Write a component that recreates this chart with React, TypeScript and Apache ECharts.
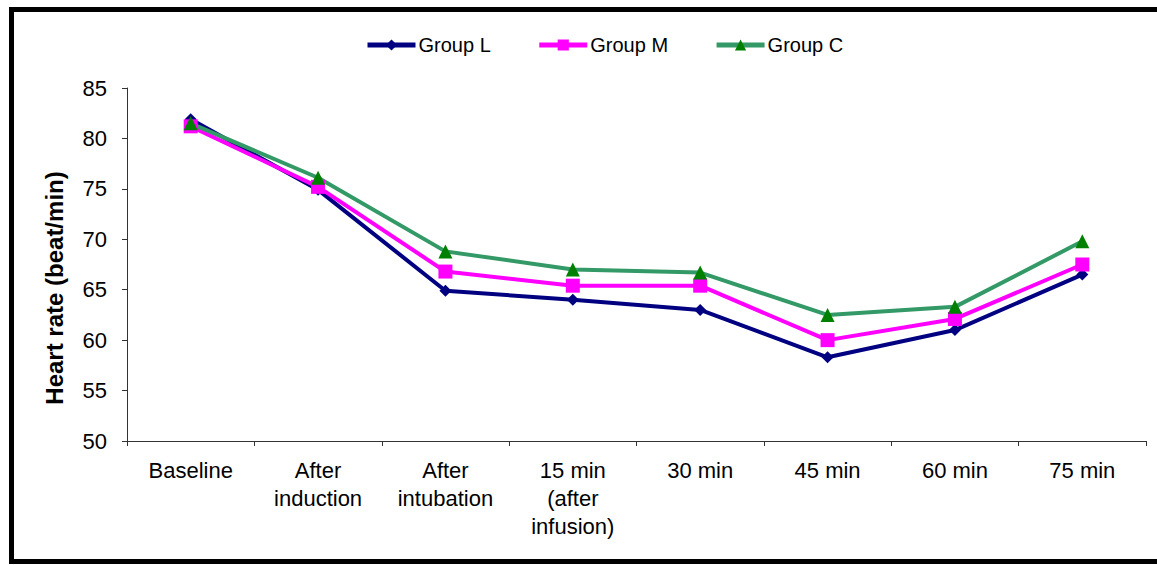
import React, { useEffect, useRef } from "react";
import * as echarts from "echarts";

const categories = [
  "Baseline",
  "After\ninduction",
  "After\nintubation",
  "15 min\n(after\ninfusion)",
  "30 min",
  "45 min",
  "60 min",
  "75 min",
];
const groupL = [81.9, 74.9, 64.9, 64.0, 63.0, 58.3, 61.0, 66.5];
const groupM = [81.2, 75.2, 66.8, 65.4, 65.4, 60.0, 62.1, 67.5];
const groupC = [81.5, 76.1, 68.8, 67.0, 66.7, 62.5, 63.3, 69.8];
const yTicks = { min: 50, max: 85, interval: 5 };
const yName = "Heart rate (beat/min)";

const FONT = "'Liberation Sans', Arial, sans-serif";

export default function App() {
  const ref = useRef<HTMLDivElement>(null);
  useEffect(() => {
    if (!ref.current) return;
    const chart = echarts.init(ref.current, null, { renderer: "svg" });
    chart.setOption({
      animation: false,
      backgroundColor: "#ffffff",
      textStyle: { fontFamily: FONT },
      grid: { left: 127, right: 11, top: 88, bottom: 124 },
      legend: {
        left: 365,
        top: 35,
        padding: 0,
        itemWidth: 48,
        itemHeight: 14,
        itemGap: 46,
        lineStyle: { width: 5 },
        textStyle: { fontSize: 20, color: "#000", fontFamily: FONT, padding: [0, 0, 0, -2] },
        data: ["Group L", "Group M", "Group C"],
      },
      xAxis: {
        type: "category",
        data: categories,
        boundaryGap: true,
        axisLine: { lineStyle: { color: "#333", width: 1 } },
        axisTick: { show: true, length: 5, inside: false, lineStyle: { color: "#333" } },
        axisLabel: {
          interval: 0,
          margin: 15,
          fontSize: 22,
          lineHeight: 28,
          color: "#000",
          fontFamily: FONT,
        },
      },
      yAxis: {
        type: "value",
        min: yTicks.min,
        max: yTicks.max,
        interval: yTicks.interval,
        splitLine: { show: false },
        axisLine: { show: true, lineStyle: { color: "#333", width: 1 } },
        axisTick: { show: true, length: 5, lineStyle: { color: "#333" } },
        axisLabel: { margin: 20, fontSize: 22, color: "#000", fontFamily: FONT },
      },
      graphic: [
        {
          type: "rect",
          shape: { x: 11.5, y: 9.5, width: 1200, height: 552 },
          style: { fill: "none", stroke: "#000", lineWidth: 5 },
          z: 100,
        },
        {
          type: "text",
          x: 54,
          y: 288,
          rotation: Math.PI / 2,
          style: {
            text: yName,
            fontSize: 24,
            fontWeight: "bold",
            fontFamily: FONT,
            fill: "#000",
            textAlign: "center",
            textVerticalAlign: "middle",
          },
        },
      ],
      series: [
        {
          name: "Group L",
          type: "line",
          data: groupL,
          symbol: "diamond",
          symbolSize: 12,
          lineStyle: { color: "#000080", width: 4 },
          itemStyle: { color: "#000080" },
        },
        {
          name: "Group M",
          type: "line",
          data: groupM,
          symbol: "rect",
          symbolSize: 14,
          lineStyle: { color: "#ff00ff", width: 4 },
          itemStyle: { color: "#ff00ff" },
        },
        {
          name: "Group C",
          type: "line",
          data: groupC,
          symbol: "triangle",
          symbolSize: 14,
          lineStyle: { color: "#339966", width: 4 },
          itemStyle: { color: "#008000" },
        },
      ],
    });
    return () => chart.dispose();
  }, []);
  return (
    <div
      ref={ref}
      style={{ position: "fixed", left: 0, top: 0, width: 1157, height: 565 }}
    />
  );
}
